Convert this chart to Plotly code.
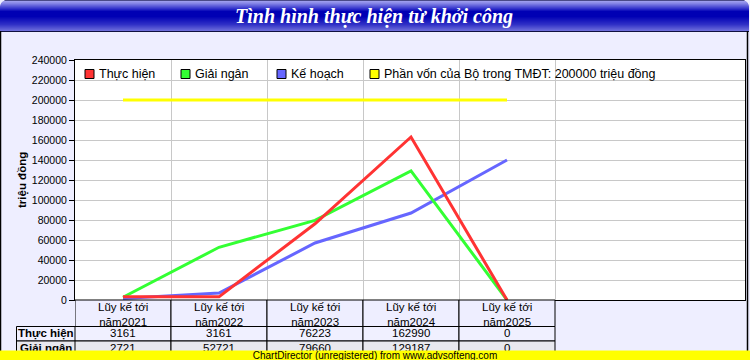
import plotly.graph_objects as go

# ---------------- data ----------------
categories = ["Lũy kế tới<br>năm2021", "Lũy kế tới<br>năm2022", "Lũy kế tới<br>năm2023",
              "Lũy kế tới<br>năm2024", "Lũy kế tới<br>năm2025"]
thuc_hien = [3161, 3161, 76223, 162990, 0]
giai_ngan = [2721, 52721, 79660, 129187, 0]
ke_hoach = [1500, 7000, 57000, 87000, 140000]
phan_von = [200000, 200000, 200000, 200000, 200000]
series_names = ["Thực hiện", "Giải ngân", "Kế hoạch",
                "Phần vốn của Bộ trong TMĐT: 200000 triệu đồng"]
series_colors = ["#FF3333", "#33FF33", "#6666FF", "#FFFF00"]
table_rows = [("Thực hiện", thuc_hien), ("Giải ngân", giai_ngan)]
title_text = "Tình hình thực hiện từ khởi công"
y_title = "triệu đồng"
footer_text = "ChartDirector (unregistered) from www.advsofteng.com"

W, H = 750, 360
L, R, T, B = 75, 745, 60, 300
PW, PH = R - L, B - T
CAT_PX = 96.0
x_max = -0.5 + PW / CAT_PX


def xp(px):
    return (px - L) / PW


def yp(py):
    return (B - py) / PH


FONT = "Liberation Sans, Arial, sans-serif"

fig = go.Figure()
xs = list(range(len(categories)))
# draw order: yellow, blue, green, red (red on top)
for idx in [3, 2, 1, 0]:
    vals = [thuc_hien, giai_ngan, ke_hoach, phan_von][idx]
    fig.add_trace(go.Scatter(x=xs, y=vals, mode="lines", name=series_names[idx],
                             line=dict(color=series_colors[idx], width=3),
                             showlegend=False, hoverinfo="skip"))

shapes = []
annotations = []


def hexc(c):
    c = c.lstrip('#')
    return tuple(int(c[i:i + 2], 16) for i in (0, 2, 4))


# ---- title bar gradient ----
anchors = [(0, '#4A4A88'), (1, '#9C9CEE'), (3, '#8484E6'), (8, '#3434CC'), (11, '#0000B4'),
           (16, '#0000B4'), (24, '#3030C6'), (30, '#6C6CDA'), (31, '#101040')]


def grad(y):
    for (y0, c0), (y1, c1) in zip(anchors, anchors[1:]):
        if y0 <= y <= y1:
            t = 0 if y1 == y0 else (y - y0) / (y1 - y0)
            a, b = hexc(c0), hexc(c1)
            return 'rgb(%d,%d,%d)' % tuple(round(a[i] + (b[i] - a[i]) * t) for i in range(3))
    return anchors[-1][1]


rad = 7
for y in range(0, 32):
    inset = 0
    if y < rad:
        d = rad - (y + 0.5)
        inset = rad - (rad ** 2 - d ** 2) ** 0.5
    shapes.append(dict(type="rect", xref="paper", yref="paper",
                       x0=xp(inset), x1=xp(W - inset - 1), y0=yp(y + 1), y1=yp(y),
                       fillcolor=grad(y), line=dict(width=0), layer="above"))

annotations.append(dict(text="<b><i>%s</i></b>" % title_text, xref="paper", yref="paper",
                        x=xp(374), y=yp(16), showarrow=False, xanchor="center", yanchor="middle",
                        font=dict(family="Liberation Serif, Times New Roman, serif", size=20,
                                  color="white")))

# outer border
shapes.append(dict(type="line", xref="paper", yref="paper", x0=xp(0.5), x1=xp(0.5),
                   y0=yp(31), y1=yp(360), line=dict(color="black", width=1.5), layer="above"))
shapes.append(dict(type="line", xref="paper", yref="paper", x0=xp(747.5), x1=xp(747.5),
                   y0=yp(31), y1=yp(360), line=dict(color="black", width=1.5), layer="above"))

# ---- legend (manual) ----
leg_x = [85, 181, 277, 370]
for i in range(4):
    shapes.append(dict(type="rect", xref="paper", yref="paper",
                       x0=xp(leg_x[i]), x1=xp(leg_x[i] + 9), y0=yp(78.5), y1=yp(69.5),
                       fillcolor=series_colors[i], line=dict(color="black", width=1),
                       layer="above"))
    annotations.append(dict(text=series_names[i], xref="paper", yref="paper",
                            x=xp(leg_x[i] + 12), y=yp(74), xanchor="left", yanchor="middle",
                            showarrow=False, font=dict(family=FONT, size=12.5, color="black")))

# ---- y title ----
annotations.append(dict(text="<b>%s</b>" % y_title, xref="paper", yref="paper",
                        x=xp(22), y=yp(180), textangle=-90, showarrow=False,
                        xanchor="center", yanchor="middle",
                        font=dict(family=FONT, size=11.5, color="black")))

# ---- data table ----
row_top = [300, 326.5, 341]
row_bot = [326.5, 341, 356]
row_fill = ["#EEEEFF", "#F0F0FF", "#E8E8EE"]
# category header cells
for i, cat in enumerate(categories):
    shapes.append(dict(type="rect", xref="x", yref="paper", x0=i - 0.5, x1=i + 0.5,
                       y0=yp(row_bot[0]), y1=yp(row_top[0]), fillcolor=row_fill[0],
                       line=dict(color="black", width=1), layer="above"))
    annotations.append(dict(text=cat, xref="x", yref="paper", x=i, y=yp(314),
                            showarrow=False, xanchor="center", yanchor="middle",
                            font=dict(family=FONT, size=11.5, color="black")))
for r, (label, vals) in enumerate(table_rows):
    top, bot = row_top[r + 1], row_bot[r + 1]
    shapes.append(dict(type="rect", xref="paper", yref="paper", x0=xp(16.5), x1=xp(75),
                       y0=yp(bot), y1=yp(top), fillcolor=row_fill[r + 1],
                       line=dict(color="black", width=1), layer="above"))
    annotations.append(dict(text="<b>%s</b>" % label, xref="paper", yref="paper",
                            x=xp(45.5), y=yp((top + bot) / 2 - 0.5), showarrow=False,
                            xanchor="center", yanchor="middle",
                            font=dict(family=FONT, size=11.5, color="black")))
    for i, v in enumerate(vals):
        shapes.append(dict(type="rect", xref="x", yref="paper", x0=i - 0.5, x1=i + 0.5,
                           y0=yp(bot), y1=yp(top), fillcolor=row_fill[r + 1],
                           line=dict(color="black", width=1), layer="above"))
        annotations.append(dict(text=str(v), xref="x", yref="paper", x=i,
                                y=yp((top + bot) / 2 - 0.5), showarrow=False,
                                xanchor="center", yanchor="middle",
                                font=dict(family=FONT, size=11.5, color="black")))

# footer
annotations.append(dict(text=footer_text, xref="paper", yref="paper", x=xp(375), y=yp(355.5),
                        xanchor="center", yanchor="middle", showarrow=False,
                        width=W, height=9, bgcolor="#FFFF00", borderpad=0,
                        font=dict(family=FONT, size=10, color="black")))

fig.update_layout(
    width=W, height=H,
    margin=dict(l=L, r=W - R, t=T, b=H - B),
    paper_bgcolor="#EEEEFF", plot_bgcolor="white",
    showlegend=False,
    shapes=shapes, annotations=annotations,
    xaxis=dict(range=[-0.5, x_max], tickvals=[0.5, 1.5, 2.5, 3.5, 4.5],
               ticktext=["", "", "", "", ""], showgrid=True, gridcolor="#C8C8C8", gridwidth=1,
               showline=True, linecolor="black", linewidth=1, mirror=True, zeroline=False,
               ticks="", fixedrange=True),
    yaxis=dict(range=[0, 240000], dtick=20000, tickformat="d", showgrid=True,
               gridcolor="#C8C8C8", gridwidth=1, showline=True, linecolor="black",
               linewidth=1, mirror=True, zeroline=False, ticks="outside", ticklen=5,
               tickcolor="black", tickfont=dict(family=FONT, size=10.5, color="black"),
               fixedrange=True),
)

fig.write_html("out.html")
